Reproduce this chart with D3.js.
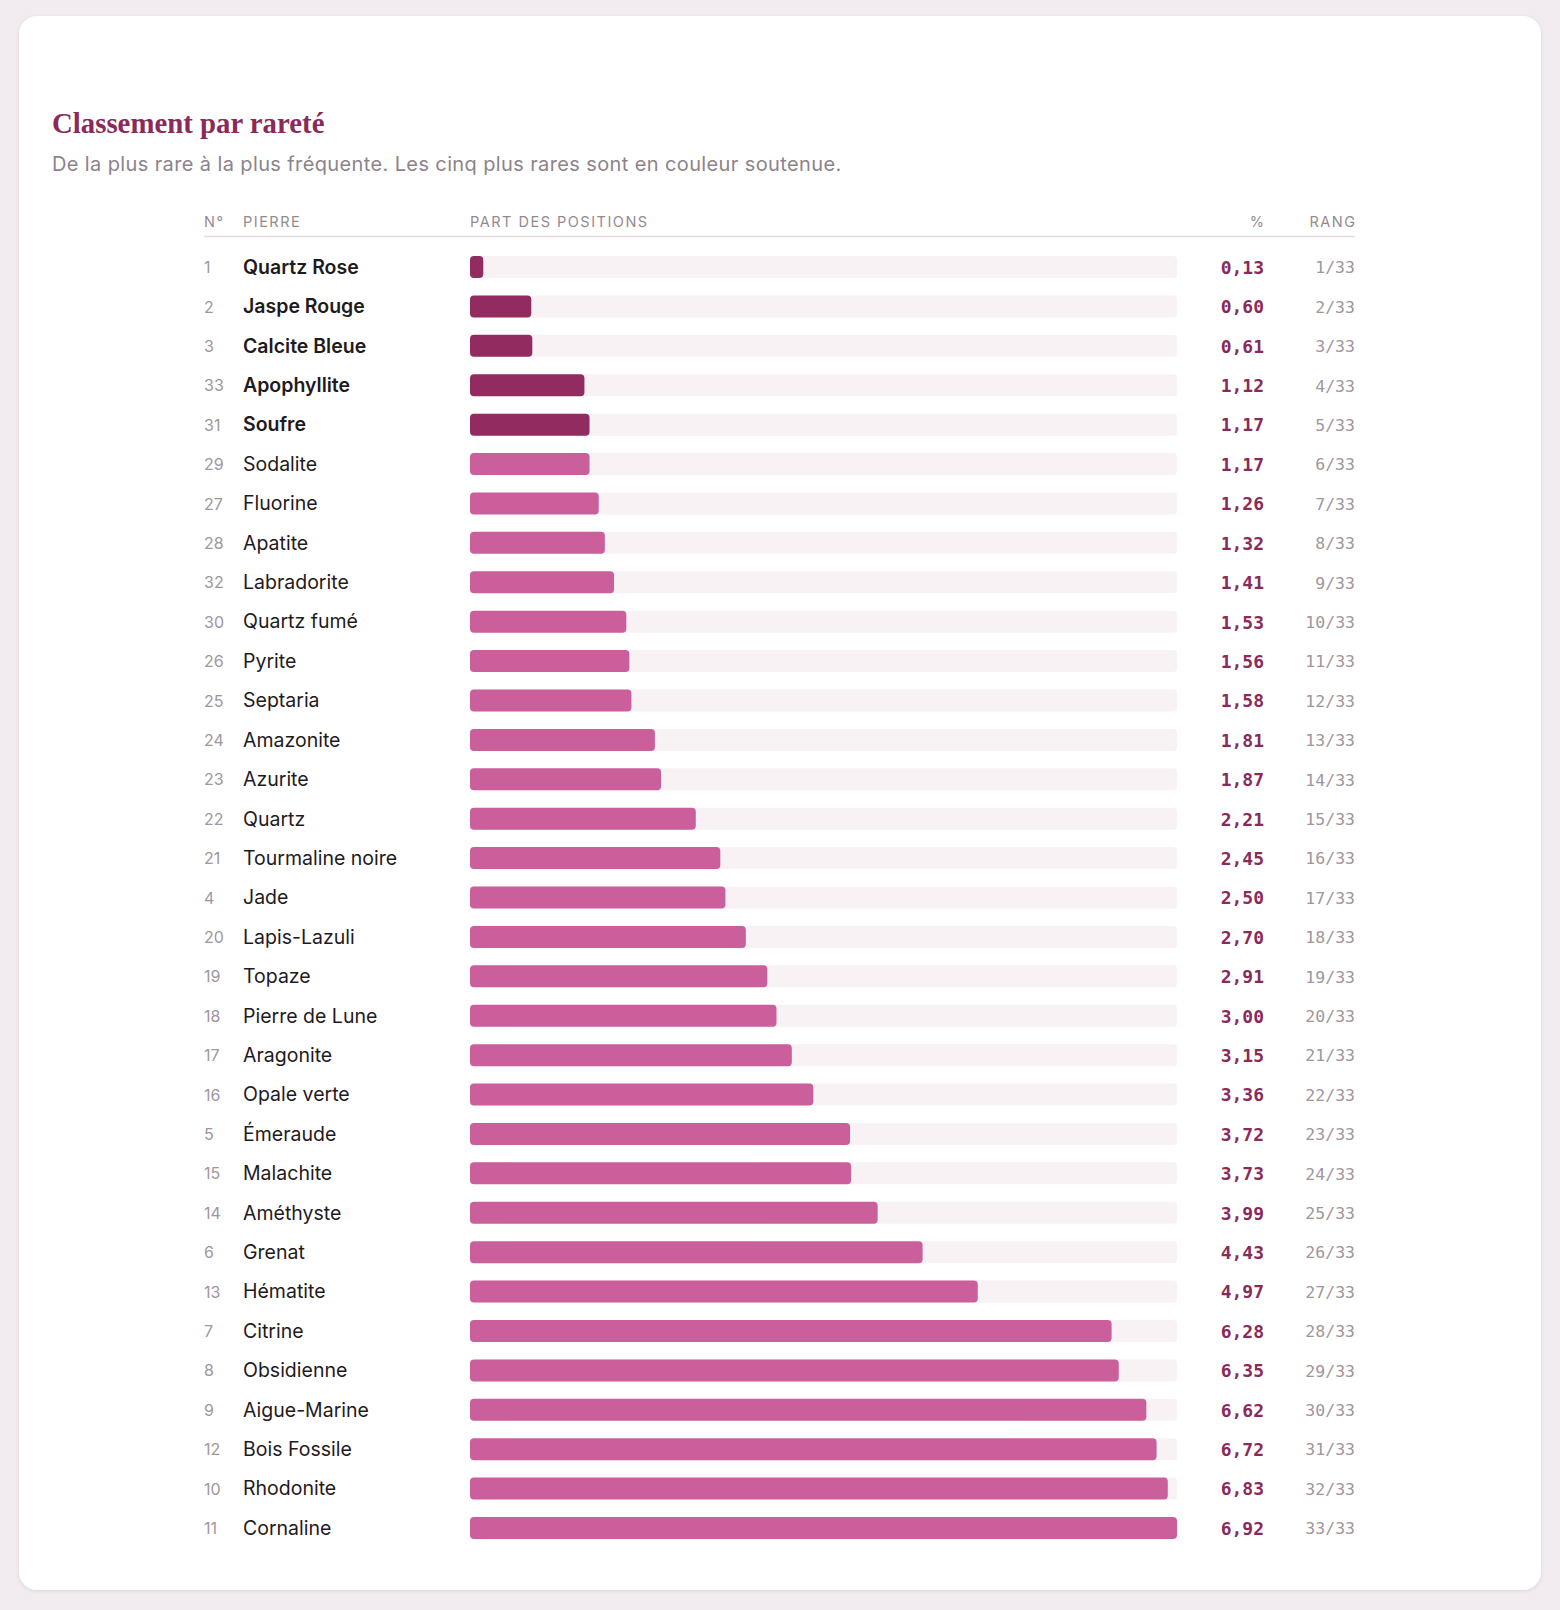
<!DOCTYPE html>
<html><head><meta charset="utf-8">
<script src="https://cdn.jsdelivr.net/npm/d3@7"></script>
<style>
html,body{margin:0;padding:0;background:#f2ecf0;}
body{width:1560px;height:1610px;overflow:hidden;}
#card{position:absolute;left:19px;top:16px;width:1522px;height:1574px;background:#fff;border-radius:18px;box-shadow:0 1px 4px rgba(90,40,70,0.12);}
svg{position:absolute;left:0;top:0;}
</style></head>
<body>
<div id="card"></div>
<svg id="chart" width="1560" height="1610"></svg>
<script>
const stoneNums = [1,2,3,33,31,29,27,28,32,30,26,25,24,23,22,21,4,20,19,18,17,16,5,15,14,6,13,7,8,9,12,10,11];
const stoneNames = ["Quartz Rose","Jaspe Rouge","Calcite Bleue","Apophyllite","Soufre","Sodalite","Fluorine","Apatite","Labradorite","Quartz fumé","Pyrite","Septaria","Amazonite","Azurite","Quartz","Tourmaline noire","Jade","Lapis-Lazuli","Topaze","Pierre de Lune","Aragonite","Opale verte","Émeraude","Malachite","Améthyste","Grenat","Hématite","Citrine","Obsidienne","Aigue-Marine","Bois Fossile","Rhodonite","Cornaline"];
const shares = [0.13,0.60,0.61,1.12,1.17,1.17,1.26,1.32,1.41,1.53,1.56,1.58,1.81,1.87,2.21,2.45,2.50,2.70,2.91,3.00,3.15,3.36,3.72,3.73,3.99,4.43,4.97,6.28,6.35,6.62,6.72,6.83,6.92];
const headers = ["N°","PIERRE","PART DES POSITIONS","%","RANG"];
const titleText = "Classement par rareté";
const subtitleText = "De la plus rare à la plus fréquente. Les cinq plus rares sont en couleur soutenue.";
const highlightCount = 5;

const rows = stoneNames.map((n,i)=>({name:n, num:stoneNums[i], v:shares[i], rank:i+1}));
const svg = d3.select("#chart");
const sans = "Inter, 'Noto Sans', sans-serif";
const mono = "'DejaVu Sans Mono', 'Liberation Mono', monospace";

svg.append("text").attr("x",52).attr("y",133)
  .attr("font-family","'Liberation Serif', 'DejaVu Serif', serif").attr("font-weight",700)
  .attr("font-size",28.8).attr("fill","#8a2a5a").text(titleText);
svg.append("text").attr("x",52).attr("y",170.5)
  .attr("font-family",sans).attr("font-size",20).attr("letter-spacing","0.38px")
  .attr("fill","#8d8389").text(subtitleText);

const colNum = 204, colName = 243, barX0 = 470, barX1 = 1177, colPct = 1264, colRank = 1355;
const x = d3.scaleLinear().domain([0, d3.max(shares)]).range([barX0, barX1]);
const y = d3.scalePoint().domain(d3.range(rows.length)).range([267, 1528]);
const bh = 22;

const hdr = svg.append("g").attr("font-family",sans).attr("font-size",14.5).attr("fill","#938a90").attr("letter-spacing","1.5px");
const hx = [colNum,colName,barX0,colPct,colRank];
const ha = ["start","start","start","end","end"];
headers.forEach((h,i)=>{
  hdr.append("text").attr("x",hx[i] + (ha[i]==="end"?1.5:0)).attr("y",227).attr("text-anchor",ha[i]).text(h);
});
svg.append("line").attr("x1",colNum).attr("x2",colRank).attr("y1",236.5).attr("y2",236.5)
  .attr("stroke","#e2dce0").attr("stroke-width",1.5);

const g = svg.selectAll("g.row").data(rows).join("g").attr("class","row")
  .attr("transform",(d,i)=>`translate(0,${y(i)})`);

g.append("rect").attr("x",barX0).attr("y",-bh/2).attr("width",barX1-barX0).attr("height",bh)
  .attr("rx",4).attr("fill","#f9f2f5");
g.append("rect").attr("x",barX0).attr("y",-bh/2).attr("width",d=>x(d.v)-barX0).attr("height",bh)
  .attr("rx",4).attr("fill",(d,i)=>i<highlightCount?"#922c60":"#cb5f9c");

g.append("text").attr("x",colNum).attr("dy","0.38em").attr("font-family",sans).attr("font-size",16)
  .attr("fill","#a0969c").text(d=>d.num);
g.append("text").attr("x",colName).attr("dy","0.35em").attr("font-family",sans).attr("font-size",19.5)
  .attr("font-weight",(d,i)=>i<highlightCount?600:400).attr("fill","#1f1a1d").text(d=>d.name);
g.append("text").attr("x",colPct).attr("dy","0.38em").attr("text-anchor","end").attr("font-family",mono)
  .attr("font-size",18).attr("font-weight",700).attr("fill","#8a2a5a")
  .text(d=>d.v.toFixed(2).replace(".",","));
g.append("text").attr("x",colRank).attr("dy","0.38em").attr("text-anchor","end").attr("font-family",mono)
  .attr("font-size",16.5).attr("fill","#a0969c").text(d=>`${d.rank}/${rows.length}`);
</script>
</body></html>
